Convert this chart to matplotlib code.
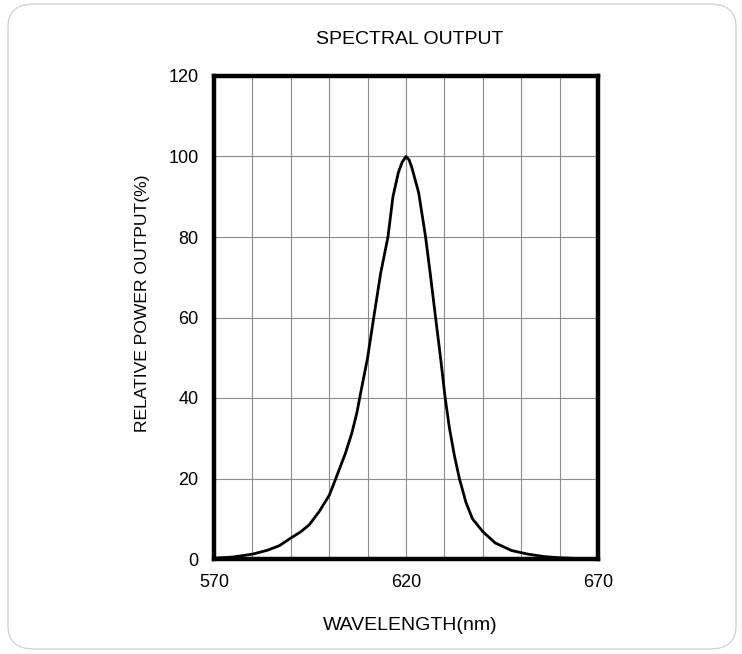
import matplotlib
matplotlib.use("Agg")
import matplotlib.pyplot as plt
from matplotlib.patches import FancyBboxPatch
from matplotlib.ticker import MultipleLocator

plt.rcParams['font.family'] = ['Liberation Sans', 'DejaVu Sans']

# data
wavelength = [570, 575, 580, 584, 587, 590, 592.5, 594.8, 597.4, 600, 601.4,
              604.2, 605.9, 607.2, 608.2, 610, 611.6, 613.4, 615.3, 616.6,
              618, 619, 620, 620.8, 621.6, 623.3, 625.1, 626.3, 627.7, 629,
              630.2, 631.3, 632.6, 633.9, 635.6, 637.3, 640, 643.2, 647.5,
              651.8, 656, 660, 665, 670]
power = [0.2, 0.5, 1.2, 2.2, 3.3, 5.2, 6.7, 8.5, 11.8, 15.8, 19.2,
         26.2, 31.3, 36.3, 41.3, 50, 60, 71, 80, 90,
         96, 98.6, 100, 99.2, 97, 91, 80, 71, 60, 50,
         40, 32.6, 25.7, 20, 14.1, 10, 6.8, 4.0, 2.1,
         1.2, 0.6, 0.3, 0.1, 0.05]
x_ticks = [570, 620, 670]
y_ticks = [0, 20, 40, 60, 80, 100, 120]

W, H = 742, 654
fig = plt.figure(figsize=(W / 100, H / 100), dpi=100)

# rounded frame around the card
frame = FancyBboxPatch((8 / W, 5 / H), 728 / W, 645 / H,
                       boxstyle="round,pad=0,rounding_size=0.035",
                       transform=fig.transFigure, facecolor='none',
                       edgecolor='#d4d4d4', linewidth=1.0, zorder=-1)
fig.patches.append(frame)

ax = fig.add_axes([214 / W, 1 - 559 / H, 384 / W, 483 / H])
ax.set_facecolor('none')

ax.plot(wavelength, power, color='black', linewidth=2.0, zorder=3,
        solid_joinstyle='round')

ax.set_xlim(570, 670)
ax.set_ylim(0, 120)
ax.set_xticks(x_ticks)
ax.set_yticks(y_ticks)
ax.xaxis.set_minor_locator(MultipleLocator(10))
ax.grid(True, which='both', color='#8c8c8c', linewidth=0.8)
ax.tick_params(which='both', length=0, labelsize=13, pad=11)

for sp in ax.spines.values():
    sp.set_linewidth(3.2)
    sp.set_color('black')
    sp.set_zorder(4)

fig.text(410 / W, 1 - 40 / H, 'SPECTRAL OUTPUT', ha='center', va='center',
         fontsize=14)
fig.text(410 / W, 1 - 625 / H, 'WAVELENGTH(nm)', ha='center', va='center',
         fontsize=14)
fig.text(143 / W, 1 - 303 / H, 'RELATIVE POWER OUTPUT(%)', ha='center',
         va='center', rotation=90, fontsize=12.6)

fig.savefig('out.png', dpi=100)
